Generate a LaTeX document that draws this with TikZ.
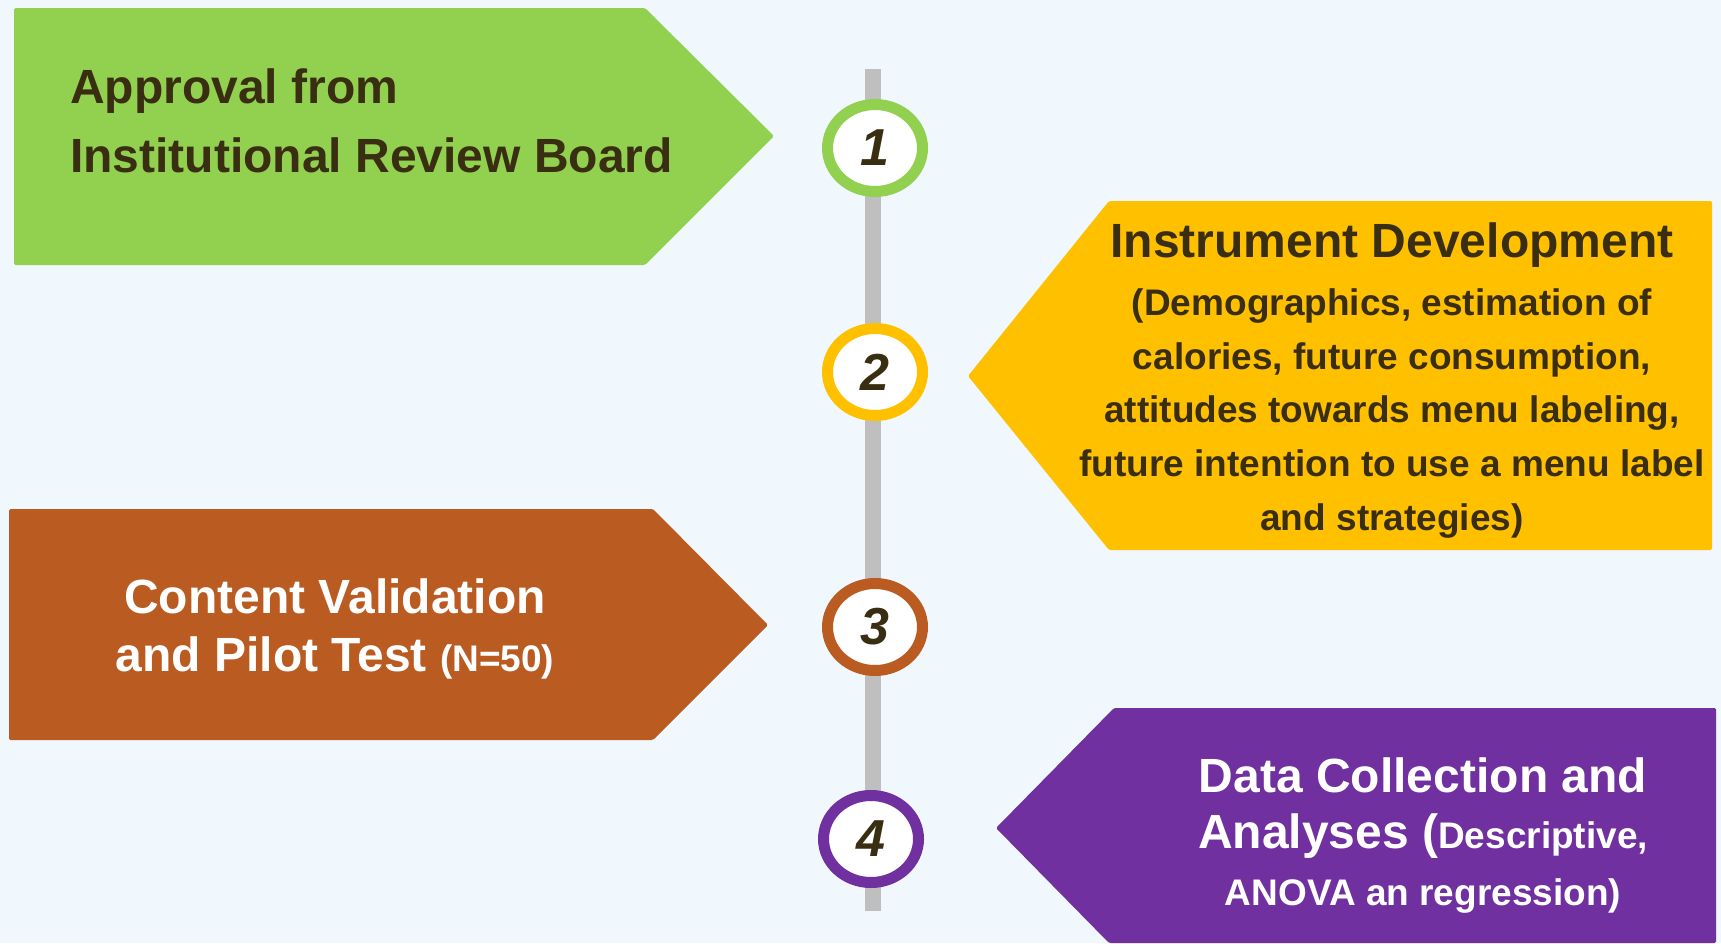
\documentclass[tikz,border=0pt]{standalone}
\usepackage{fontspec}
\setmainfont{Liberation Sans}
\usetikzlibrary{shapes.geometric}

\definecolor{bgblue}{RGB}{240,248,254}
\definecolor{stepgreen}{RGB}{146,208,80}
\definecolor{stepyellow}{RGB}{255,192,0}
\definecolor{stepbrown}{RGB}{186,91,34}
\definecolor{steppurple}{RGB}{112,48,160}
\definecolor{darktext}{RGB}{58,46,18}
\definecolor{bargray}{RGB}{191,191,191}

\tikzset{
  arrowbox/.style={rounded corners=1.5pt},
  bigtxt/.style={inner sep=0pt, font=\fontsize{48}{56}\selectfont\bfseries},
  smalltxt/.style={inner sep=0pt, font=\fontsize{37}{44}\selectfont\bfseries},
  ring/.style={ellipse, draw=#1, fill=white, line width=11pt,
    minimum width=95pt, minimum height=87pt, inner sep=0pt,
    text=darktext, font=\fontsize{52}{56}\selectfont\bfseries\itshape},
  timeline/.style={draw=bargray, line width=16pt}
}

\begin{document}
\begin{tikzpicture}[x=1pt,y=-1pt]
\useasboundingbox (0,0) rectangle (1721,943);
\fill[bgblue] (0,0) rectangle (1721,943);

% step banners
\fill[stepgreen, arrowbox] (14,8) -- (645,8) -- (774,136) -- (645,265) -- (14,265) -- cycle;
\fill[stepyellow, arrowbox] (968,376) -- (1109,201) -- (1712,201) -- (1712,550) -- (1109,550) -- cycle;
\fill[stepbrown, arrowbox] (9,509) -- (653,509) -- (768,625) -- (653,740) -- (9,740) -- cycle;
\fill[steppurple, arrowbox] (996,828) -- (1114,708) -- (1716,708) -- (1716,943) -- (1109,943) -- cycle;

% timeline
\coordinate (bartop) at (873,69);
\coordinate (barbot) at (873,911);
\draw[timeline] (bartop) -- (barbot);

% numbered markers
\node[ring=stepgreen]  (n1) at (875,148) {1};
\node[ring=stepyellow] (n2) at (875,372) {2};
\node[ring=stepbrown]  (n3) at (875,627) {3};
\node[ring=steppurple] (n4) at (871,839) {4};

% step 1
\node[bigtxt, text=darktext, anchor=base west] (s1a) at (70,103) {Approval from};
\node[bigtxt, text=darktext, anchor=base west] (s1b) at (70,172) {Institutional Review Board};

% step 2
\node[bigtxt, text=darktext, anchor=base] (s2a) at (1392,257) {Instrument Development};
\node[smalltxt, text=darktext, anchor=base] (s2b) at (1392,315) {(Demographics, estimation of};
\node[smalltxt, text=darktext, anchor=base] (s2c) at (1392,369) {calories, future consumption,};
\node[smalltxt, text=darktext, anchor=base] (s2d) at (1392,422) {attitudes towards menu labeling,};
\node[smalltxt, text=darktext, anchor=base] (s2e) at (1392,476) {future intention to use a menu label};
\node[smalltxt, text=darktext, anchor=base] (s2f) at (1392,530) {and strategies)};

% step 3
\node[bigtxt, text=white, anchor=base] (s3a) at (335,613) {Content Validation};
\node[bigtxt, text=white, anchor=base] (s3b) at (335,671) {and Pilot Test {\fontsize{37}{44}\selectfont(N=50)}};

% step 4
\node[bigtxt, text=white, anchor=base] (s4a) at (1423,792) {Data Collection and};
\node[bigtxt, text=white, anchor=base] (s4b) at (1423,848) {Analyses ({\fontsize{37}{44}\selectfont Descriptive,}};
\node[smalltxt, text=white, anchor=base] (s4c) at (1423,905) {ANOVA an regression)};
\end{tikzpicture}
\end{document}
